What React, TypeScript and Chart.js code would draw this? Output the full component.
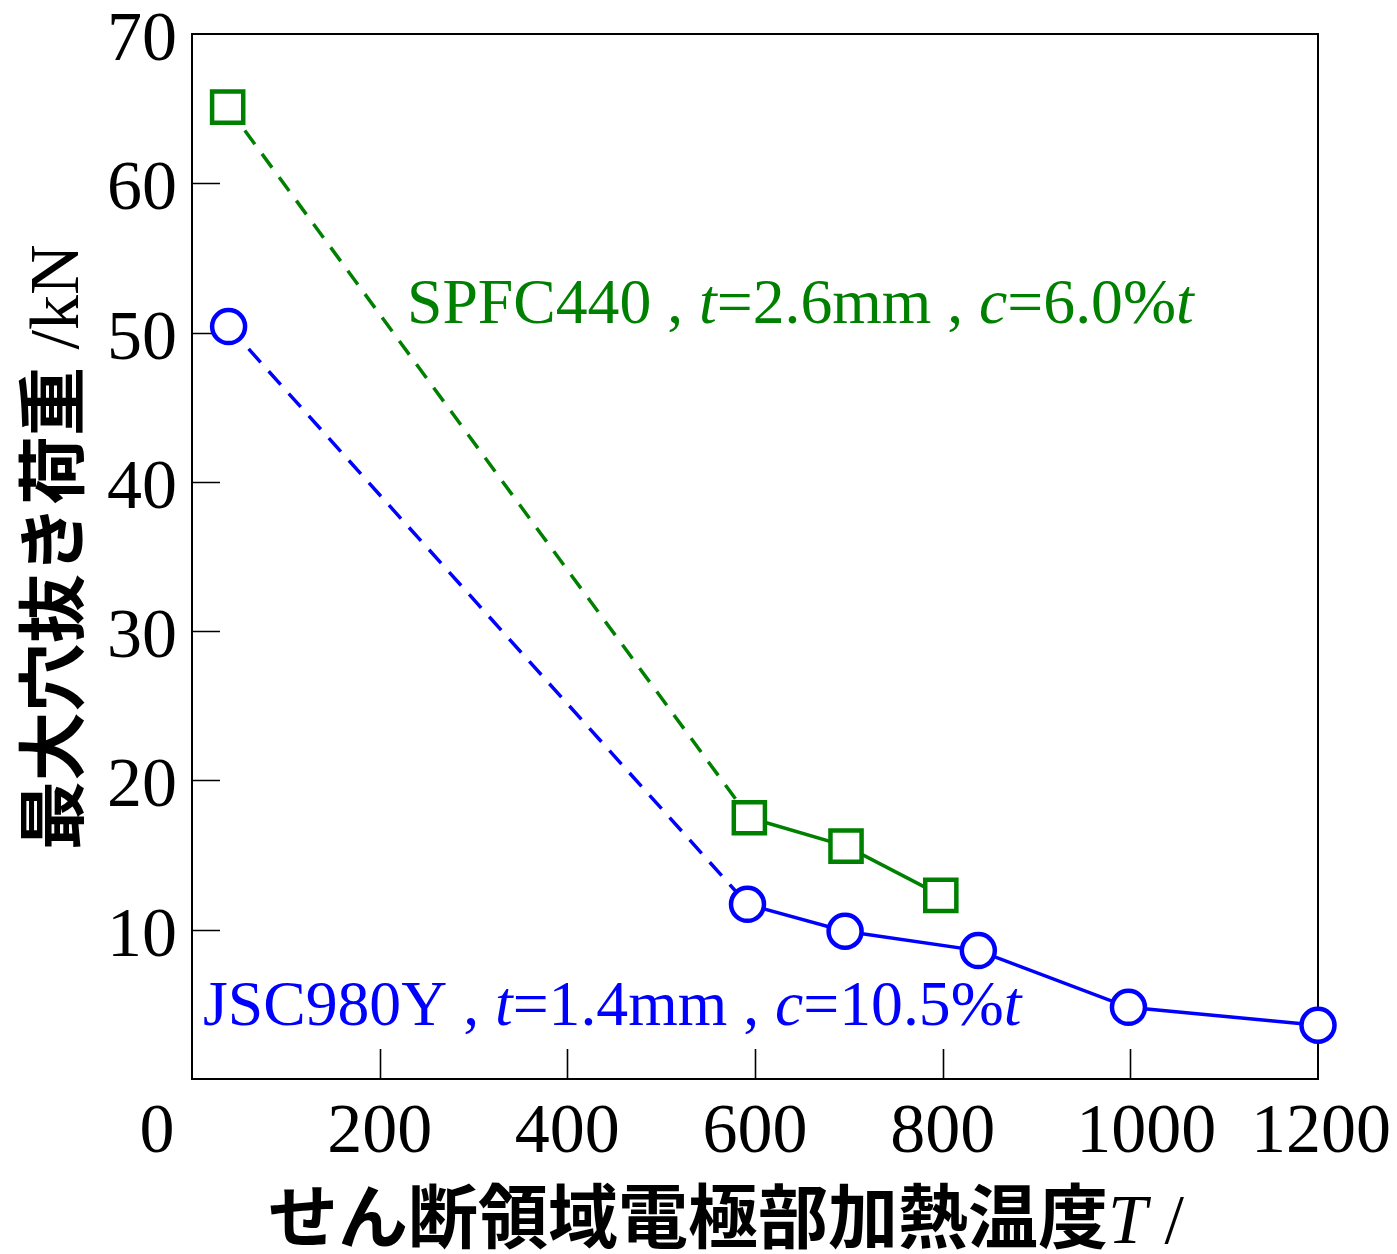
import React, { useEffect, useRef } from "react";
import { Chart, registerables } from "chart.js";

Chart.register(...registerables);

// ---- data ----
const spfcTemps = [38, 594, 697, 798];
const spfcLoads = [65.1, 17.5, 15.6, 12.3];
const jscTemps = [39, 592, 696, 838, 998, 1200];
const jscLoads = [50.4, 11.7, 9.9, 8.6, 4.8, 3.6];

const xTickValues = [0, 200, 400, 600, 800, 1000, 1200];
const yTickValues = [10, 20, 30, 40, 50, 60, 70];

const yTitleJp = "最大穴抜き荷重";
const yTitleUnit = " /kN";
const xTitleJp = "せん断領域電極部加熱温度";
const xTitleSym = "T";
const xTitleUnit = " /";

// [text, style]  n = normal, i = italic
const spfcNote: [string, string][] = [
  ["SPFC440 , ", "n"],
  ["t", "i"],
  ["=2.6mm , ", "n"],
  ["c", "i"],
  ["=6.0%", "n"],
  ["t", "i"],
];
const jscNote: [string, string][] = [
  ["JSC980Y , ", "n"],
  ["t", "i"],
  ["=1.4mm , ", "n"],
  ["c", "i"],
  ["=10.5%", "n"],
  ["t", "i"],
];

const GREEN = "#008000";
const BLUE = "#0000ff";
const SERIF = "'Liberation Serif', 'Times New Roman', serif";
const JP = "'Noto Sans CJK JP', 'Noto Sans', sans-serif";

type Run = { text: string; font: string };

function drawRuns(ctx: CanvasRenderingContext2D, runs: Run[], x: number, y: number) {
  let cx = x;
  for (const r of runs) {
    ctx.font = r.font;
    ctx.fillText(r.text, cx, y);
    cx += ctx.measureText(r.text).width;
  }
  return cx;
}

const noteRuns = (note: [string, string][], size: number): Run[] =>
  note.map(([t, s]) => ({
    text: t,
    font: `${s === "i" ? "italic " : ""}${size}px ${SERIF}`,
  }));

const decorPlugin = {
  id: "decor",
  beforeDatasetsDraw(chart: any) {
    const { ctx, chartArea } = chart;
    const xs = chart.scales.x;
    const ys = chart.scales.y;
    ctx.save();
    ctx.strokeStyle = "#000";
    ctx.lineWidth = 2;
    ctx.strokeRect(chartArea.left, chartArea.top, chartArea.right - chartArea.left, chartArea.bottom - chartArea.top);
    ctx.lineWidth = 1.6;
    ctx.beginPath();
    for (const v of yTickValues) {
      if (v === 70) continue;
      const py = Math.round(ys.getPixelForValue(v)) + 0.5;
      ctx.moveTo(chartArea.left, py);
      ctx.lineTo(chartArea.left + 28, py);
    }
    for (const v of xTickValues) {
      if (v === 0 || v === 1200) continue;
      const px = Math.round(xs.getPixelForValue(v)) + 0.5;
      ctx.moveTo(px, chartArea.bottom);
      ctx.lineTo(px, chartArea.bottom - 30);
    }
    ctx.stroke();
    ctx.restore();
  },
  afterDraw(chart: any) {
    const { ctx, chartArea } = chart;
    const xs = chart.scales.x;
    const ys = chart.scales.y;
    ctx.save();
    ctx.fillStyle = "#000";
    ctx.textBaseline = "alphabetic";

    // y tick labels
    ctx.font = `70px ${SERIF}`;
    ctx.textAlign = "right";
    for (const v of yTickValues) {
      const py = ys.getPixelForValue(v);
      ctx.fillText(String(v), chartArea.left - 15, py + 26);
    }

    // x tick labels
    ctx.textAlign = "center";
    for (const v of xTickValues) {
      let px = xs.getPixelForValue(v);
      if (v === 0) px -= 35;
      if (v === 1000) px += 16;
      if (v === 1200) px += 3;
      ctx.fillText(String(v), px, chartArea.bottom + 73);
    }

    ctx.textAlign = "left";
    // x title
    drawRuns(
      ctx,
      [
        { text: xTitleJp, font: `bold 70px ${JP}` },
        { text: xTitleSym, font: `italic 70px ${SERIF}` },
        { text: xTitleUnit, font: `70px ${SERIF}` },
      ],
      268,
      1243
    );

    // y title (rotated)
    ctx.save();
    ctx.translate(78, 850);
    ctx.rotate(-Math.PI / 2);
    drawRuns(
      ctx,
      [
        { text: yTitleJp, font: `bold 69px ${JP}` },
        { text: yTitleUnit, font: `70px ${SERIF}` },
      ],
      0,
      0
    );
    ctx.restore();

    // annotations
    ctx.fillStyle = GREEN;
    drawRuns(ctx, noteRuns(spfcNote, 63.7), 407, 323);
    ctx.fillStyle = BLUE;
    drawRuns(ctx, noteRuns(jscNote, 63.7), 203, 1025);

    ctx.restore();
  },
};

export default function App() {
  const canvasRef = useRef<HTMLCanvasElement | null>(null);

  useEffect(() => {
    document.body.style.margin = "0";
    const canvas = canvasRef.current;
    if (!canvas) return;
    const dashFirst = (dash: number[]) => ({
      borderDash: (c: any) => (c.p0DataIndex === 0 ? dash : []),
    });
    const chart = new Chart(canvas, {
      type: "line",
      data: {
        datasets: [
          {
            label: "SPFC440",
            data: spfcTemps.map((x, i) => ({ x, y: spfcLoads[i] })),
            borderColor: GREEN,
            borderWidth: 3.5,
            pointStyle: "rect",
            pointRadius: 22,
            pointBorderWidth: 4.5,
            pointBorderColor: GREEN,
            pointBackgroundColor: "#fff",
            fill: false,
            tension: 0,
            clip: false,
            segment: dashFirst([17, 12]),
          } as any,
          {
            label: "JSC980Y",
            data: jscTemps.map((x, i) => ({ x, y: jscLoads[i] })),
            borderColor: BLUE,
            borderWidth: 3.5,
            pointStyle: "circle",
            pointRadius: 16.5,
            pointBorderWidth: 4.5,
            pointBorderColor: BLUE,
            pointBackgroundColor: "#fff",
            fill: false,
            tension: 0,
            clip: false,
            segment: dashFirst([18, 12]),
          } as any,
        ],
      },
      options: {
        responsive: false,
        devicePixelRatio: 1,
        animation: false,
        events: [],
        layout: { padding: { left: 192, right: 79, top: 34, bottom: 175 } },
        plugins: { legend: { display: false }, tooltip: { enabled: false } },
        scales: {
          x: { type: "linear", min: 0, max: 1200, display: false },
          y: { type: "linear", min: 0, max: 70, display: false },
        },
      },
      plugins: [decorPlugin],
    });
    return () => chart.destroy();
  }, []);

  return (
    <canvas
      ref={canvasRef}
      width={1397}
      height={1254}
      style={{ display: "block", width: 1397, height: 1254 }}
    />
  );
}
